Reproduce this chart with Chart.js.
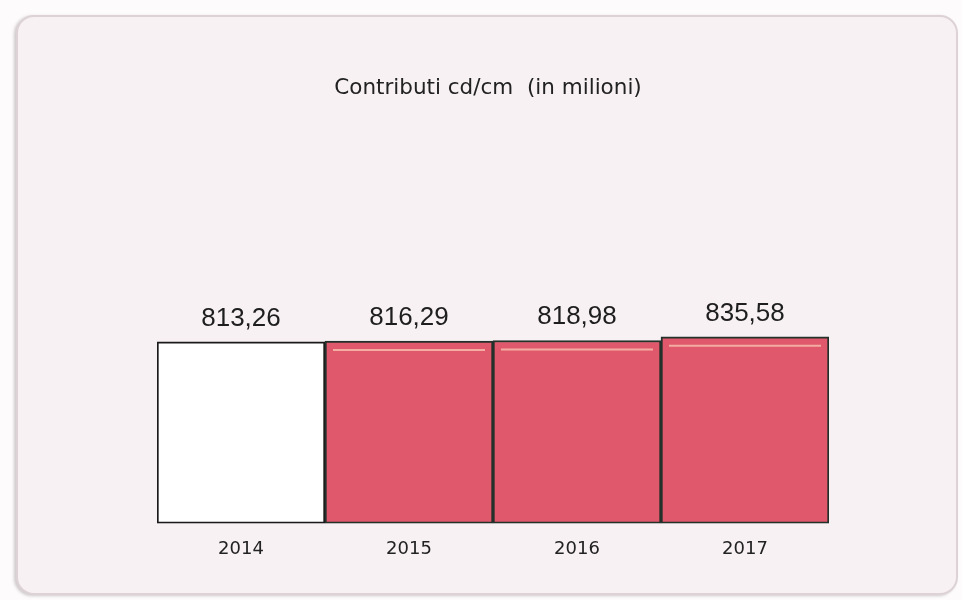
<!DOCTYPE html>
<html>
<head>
<meta charset="utf-8">
<script src="https://cdn.jsdelivr.net/npm/chart.js@4"></script>
<style>
  html, body { margin: 0; padding: 0; background: #fdfbfc; }
  #wrap { position: relative; width: 962px; height: 600px; }
  #panel {
    position: absolute; left: 16px; top: 15px; width: 942px; height: 580px;
    background: #f7f1f3; border: 2px solid #ddd3d6; border-radius: 18px;
    box-shadow: -2px 1px 3px rgba(120,110,110,0.35);
    box-sizing: border-box;
  }
  canvas { position: absolute; left: 0; top: 0; }
</style>
</head>
<body>
<div id="wrap">
  <div id="panel"></div>
  <canvas id="chart" width="962" height="600"></canvas>
</div>
<script>
const chartTitle = "Contributi cd/cm  (in milioni)";
const years = ["2014", "2015", "2016", "2017"];
const contributi = [813.26, 816.29, 818.98, 835.58];
const fillColors = ["#ffffff", "#e0586c", "#e0586c", "#e0586c"];
const borderColors = ["#1a1a1a", "#24302a", "#24302a", "#24302a"];

const fmt = (v) => v.toFixed(2).replace(".", ",");

const barExtras = {
  id: "barExtras",
  afterDatasetsDraw(chart) {
    const { ctx, chartArea } = chart;
    const meta = chart.getDatasetMeta(0);
    ctx.save();

    // glossy light line just inside the top of the red bars
    meta.data.forEach((bar, i) => {
      if (i === 0) return;
      const half = bar.width / 2;
      ctx.strokeStyle = "rgba(250, 200, 180, 0.75)";
      ctx.lineWidth = 2;
      ctx.beginPath();
      ctx.moveTo(bar.x - half + 8, bar.y + 9);
      ctx.lineTo(bar.x + half - 8, bar.y + 9);
      ctx.stroke();
    });

    // value labels
    ctx.font = "26px 'Liberation Sans', Arial, sans-serif";
    ctx.fillStyle = "#1e1e1e";
    ctx.textAlign = "center";
    ctx.textBaseline = "alphabetic";
    meta.data.forEach((bar, i) => {
      ctx.fillText(fmt(contributi[i]), bar.x, bar.y - 16);
    });

    // title
    ctx.font = "21.5px 'DejaVu Sans', Verdana, sans-serif";
    ctx.fillStyle = "#222";
    ctx.textBaseline = "middle";
    ctx.fillText(chartTitle, (chartArea.left + chartArea.right) / 2 - 5, 88);
    ctx.restore();
  },
};

new Chart(document.getElementById("chart"), {
  type: "bar",
  data: {
    labels: years,
    datasets: [
      {
        data: contributi,
        backgroundColor: fillColors,
        borderColor: borderColors,
        borderWidth: 2,
        borderSkipped: false,
        categoryPercentage: 1,
        barPercentage: 1,
      },
    ],
  },
  options: {
    responsive: false,
    animation: false,
    layout: { padding: { left: 157, right: 133, top: 166, bottom: 25 } },
    plugins: {
      legend: { display: false },
      tooltip: { enabled: false },
      title: { display: false },
    },
    scales: {
      x: {
        grid: { display: false, drawTicks: false },
        border: { display: false },
        ticks: {
          padding: 15,
          color: "#222",
          font: { family: "'DejaVu Sans', Verdana, sans-serif", size: 18 },
        },
      },
      y: {
        display: false,
        beginAtZero: true,
        max: 1600,
      },
    },
  },
  plugins: [barExtras],
});
</script>
</body>
</html>
